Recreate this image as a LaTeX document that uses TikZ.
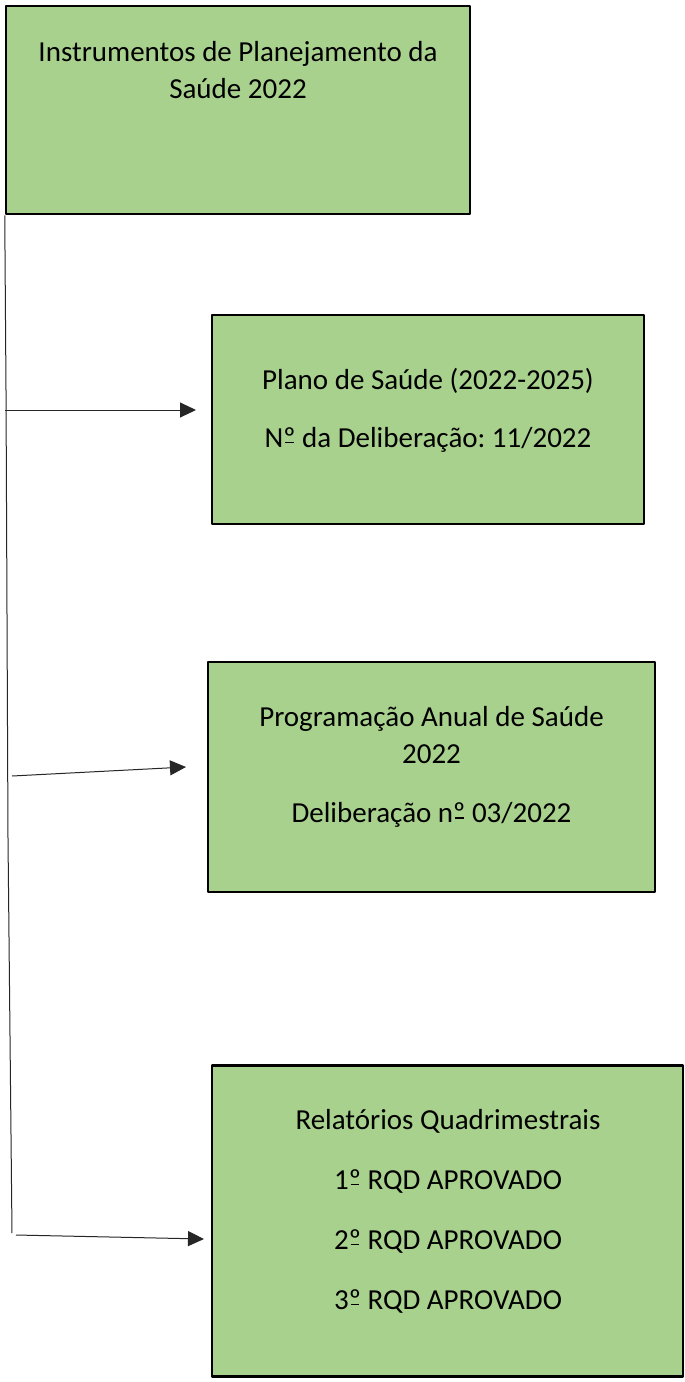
\documentclass[tikz,border=0pt]{standalone}
\usepackage{fontspec}
\setmainfont{Carlito}
\usetikzlibrary{arrows.meta,positioning}
\definecolor{verde}{HTML}{A9D18E}
\newcommand{\ordo}{\ooalign{º\cr\hidewidth\rule[0.13em]{0.3em}{0.05em}\hidewidth}}
\frenchspacing
\begin{document}
\begin{tikzpicture}[x=1pt,y=-1pt,>={Triangle[length=16pt,width=15pt]}, line join=round,
	caixa/.style={draw=black,line width=2.5pt,fill=verde,inner sep=0pt},
	texto/.style={align=center,inner sep=0pt,font=\fontsize{29}{37}\selectfont},
	liga/.style={line width=1pt,draw=black!85}]
	\useasboundingbox (0,0) rectangle (685,1382);
	% caixas
	\node[caixa,minimum width=464pt,minimum height=208pt] (inst) at (238,110) {};
	\node[caixa,minimum width=432pt,minimum height=209pt] (plano) at (428,419.5) {};
	\node[caixa,minimum width=447pt,minimum height=230pt] (pas) at (431.5,777) {};
	\node[caixa,minimum width=471pt,minimum height=311pt] (rqd) at (447.5,1221) {};
	% textos
	\node[texto] (instT) at (238,70) {Instrumentos de Planejamento da\\Saúde 2022};
	\node[texto] (planoT) at (428,410) {Plano de Saúde (2022-2025)\\[21pt]N\ordo{} da Deliberação: 11/2022};
	\node[texto] (pasT) at (431.5,767) {Programação Anual de Saúde\\2022\\[22pt]Deliberação n\ordo{} 03/2022};
	\node[texto] (rqdT) at (448,1211) {Relatórios Quadrimestrais\\[23pt]1\ordo{} RQD APROVADO\\[23pt]2\ordo{} RQD APROVADO\\[23pt]3\ordo{} RQD APROVADO};
	% linha vertical e setas
	\coordinate (v1) at (6,390); \coordinate (v2) at (8,838); \coordinate (v3) at (12,1233);
	\draw[liga] (inst.south west) -- (v1) -- (v2) -- (v3);
	\coordinate (s1) at (5,410); \coordinate (e1) at (196,410);
	\coordinate (s2) at (12,776); \coordinate (e2) at (186,767);
	\coordinate (s3) at (16,1235); \coordinate (e3) at (204,1239);
	\foreach \s/\e in {s1/e1,s2/e2,s3/e3}
	\draw[liga,->] (\s) -- (\e);
\end{tikzpicture}
\end{document}
